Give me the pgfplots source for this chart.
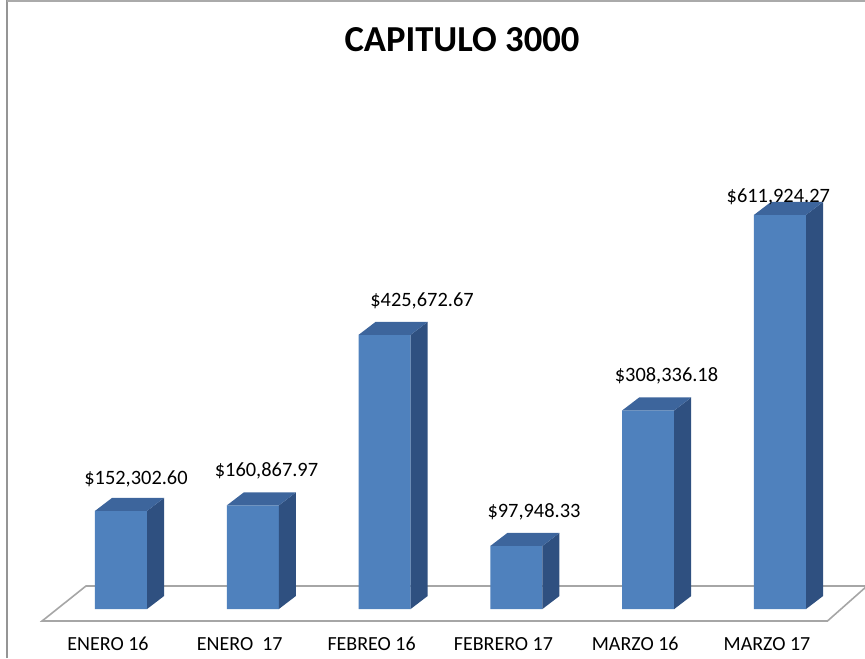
\documentclass[border=0pt]{standalone}
\usepackage{pgfplots}
\usepackage{pgfplotstable}
\pgfplotsset{compat=1.18}
\usepackage{fontspec}
\setmainfont{Carlito}
\definecolor{front}{HTML}{4F81BD}
\definecolor{side}{HTML}{2F5080}
\definecolor{topc}{HTML}{3D659C}
\definecolor{floorc}{HTML}{A6A6A6}
\definecolor{framec}{HTML}{959595}

\pgfplotstableread{
x v
0 152302.60
1 160867.97
2 425672.67
3 97948.33
4 308336.18
5 611924.27
}\bars

\pgfplotstableread{
lx ly lab
0.1138 193323 \$152,302.60
1.1039 204969 \$160,867.97
2.2838 469720 \$425,672.67
3.1335 141304 \$97,948.33
4.1388 353261 \$308,336.18
4.9871 629969 \$611,924.27
}\labels

\begin{document}
\begin{tikzpicture}
\begin{axis}[
  scale only axis, width=432.5pt, height=329pt,
  xmin=-0.91806, xmax=5.64492, ymin=-76087, ymax=945652,
  axis line style={draw=none}, major tick length=0pt, ytick=\empty,
  xtick={0,...,5},
  xticklabels={ENERO 16, ENERO\ \ 17, FEBREO 16, FEBRERO 17, MARZO 16, MARZO 17},
  xticklabel style={font=\fontsize{10}{12}\selectfont, anchor=base, yshift=4pt, xshift=-6.5pt},
  title={CAPITULO 3000},
  title style={font=\fontsize{18.3}{22}\selectfont\bfseries, at={(rel axis cs:0.5341,0.904)}, anchor=base},
  scaled y ticks=false,
]
% floor
\addplot[draw=floorc, line width=0.8pt, fill=white] coordinates {(-0.599,-18634) (5.36,-18634) (5.660,35714) (-0.266,35714)} -- cycle;
% front faces
\addplot[ybar, bar width=0.395, bar shift=0, fill=front, draw=none] table[x=x,y=v]{\bars};
% side and top faces
\pgfplotsinvokeforeach{0,...,5}{
  \pgfplotstablegetelem{#1}{v}\of\bars
  \edef\vv{\pgfplotsretval}
  \edef\vt{\fpeval{\pgfplotsretval+20186}}
  \edef\xa{\fpeval{#1-0.1975}}
  \edef\xb{\fpeval{#1+0.1975}}
  \edef\xc{\fpeval{#1+0.1975+0.129}}
  \edef\xd{\fpeval{#1-0.1975+0.129}}
  \addplot[fill=side, draw=none] coordinates {(\xb,0) (\xc,20186) (\xc,\vt) (\xb,\vv)} -- cycle;
  \addplot[fill=topc, draw=none] coordinates {(\xa,\vv) (\xb,\vv) (\xc,\vt) (\xd,\vt)} -- cycle;
}
% data labels
\addplot[only marks, mark=none, nodes near coords, point meta=explicit symbolic,
  every node near coord/.append style={font=\fontsize{10.2}{12}\selectfont, inner sep=0pt, text depth=0pt, anchor=south}]
  table[x=lx, y=ly, meta=lab]{\labels};
\coordinate (bl) at (rel axis cs:0,0);
\coordinate (tr) at (rel axis cs:1,1);
\coordinate (fl1) at (rel axis cs:0.0081,0);
\coordinate (fl2) at (rel axis cs:0.0081,1);
\coordinate (tl1) at (rel axis cs:0.0081,0.9985);
\coordinate (tl2) at (rel axis cs:1,0.9985);
\end{axis}
\draw[framec, line width=1pt] (fl1) -- (fl2);
\draw[framec!80, line width=0.8pt] (tl1) -- (tl2);
\pgfresetboundingbox
\useasboundingbox (bl) rectangle (tr);
\end{tikzpicture}
\end{document}
